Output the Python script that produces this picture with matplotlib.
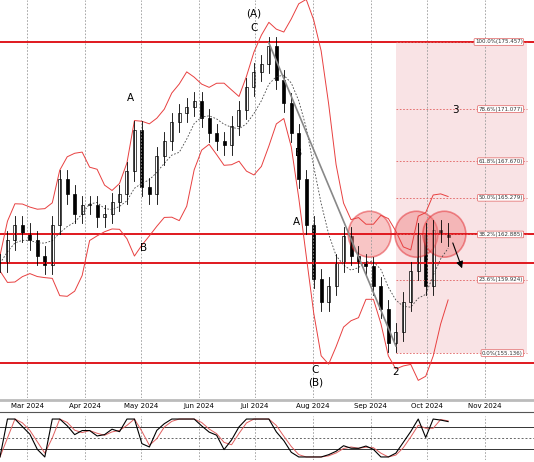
import matplotlib
matplotlib.use("Agg")
import matplotlib.pyplot as plt
import numpy as np
from matplotlib.patches import Ellipse

# closes every 4 calendar days starting Feb 16 2024
closes = [161.0, 162.5, 163.5, 163.0, 162.5, 161.5, 160.9, 163.5, 166.5, 165.5,
          164.2, 164.8, 164.8, 164.0, 164.2, 165.0, 165.5, 167.0, 169.7, 166.0,
          165.5, 168.0, 169.0, 170.2, 170.8, 171.2, 171.6, 170.5, 169.5, 169.0,
          168.7, 170.0, 171.0, 172.5, 173.5, 174.0, 175.2, 173.0, 171.5, 169.5,
          166.5, 163.5, 160.0, 158.5, 159.5, 161.0, 162.8, 161.5, 161.0, 160.8,
          159.5, 158.0, 155.8, 156.5, 158.5, 160.5, 163.0, 159.5, 163.2, 163.0, 162.7]
months = ["Mar 2024", "Apr 2024", "May 2024", "Jun 2024", "Jul 2024",
          "Aug 2024", "Sep 2024", "Oct 2024", "Nov 2024"]
month_days = [14.5, 45.5, 75.5, 106.5, 136.5, 167.5, 198.5, 228.5, 259.5]
hlines = [175.457, 162.885, 160.99, 154.5]
fib_pct = ["100.0%", "78.6%", "61.8%", "50.0%", "38.2%", "23.6%", "0.0%"]
fib_val = [175.457, 171.077, 167.670, 165.279, 162.885, 159.924, 155.136]
waves = [("(A)", 136, 177.3), ("C", 136, 176.4), ("A", 70, 171.8), ("B", 77, 162.0),
         ("B", 160, 168.2), ("A", 159, 163.7), ("C", 169, 154.0), ("(B)", 169, 153.2),
         ("2", 212, 153.9), ("3", 244, 171.0)]

c = np.array(closes)
days = np.arange(len(c)) * 4.0
opens = np.r_[c[0], c[:-1]]
highs = np.maximum(opens, c) + 0.6
lows = np.minimum(opens, c) - 0.6
# bollinger bands
w = 6
ma = np.array([c[max(0, i - w + 1):i + 1].mean() for i in range(len(c))])
sd = np.array([c[max(0, i - w + 1):i + 1].std() for i in range(len(c))])
up, dn = ma + 2 * sd + 0.5, ma - 2 * sd - 0.5

fig = plt.figure(figsize=(5.34, 4.62), dpi=100)
ax = fig.add_axes([0, 64 / 462, 1, 398 / 462])
osc = fig.add_axes([0, 2 / 462, 1, 44 / 462])

ax.set_xlim(0, 286)
ax.set_ylim(152.2, 178.2)
ax.axvspan(212, 282, ymin=(155.136 - 152.2) / 26, ymax=(175.457 - 152.2) / 26,
           color="#f4c9cc", alpha=0.5, lw=0)
for d in month_days:
    ax.axvline(d, color="#999999", ls=(0, (2, 2)), lw=0.6)
for h in hlines:
    ax.axhline(h, color="#e0181e", lw=1.4)
for p, v in zip(fib_pct, fib_val):
    ax.plot([212, 282], [v, v], color="#e06060", ls=(0, (2, 2)), lw=0.6)
    ax.text(280, v, f"{p}({v:.3f})", fontsize=4, ha="right", va="center", color="#333",
            bbox=dict(boxstyle="round,pad=0.15", fc="white", ec="#e06060", lw=0.5))
ax.plot(days, up, color="#e84040", lw=0.7)
ax.plot(days, dn, color="#e84040", lw=0.7)
ax.plot(days, ma, color="#444", ls=(0, (2, 2)), lw=0.6)
for x, o, cl, hi, lo in zip(days, opens, c, highs, lows):
    ax.plot([x, x], [lo, hi], color="black", lw=0.6)
    ax.add_patch(plt.Rectangle((x - 0.8, min(o, cl)), 1.6, max(abs(cl - o), 0.1),
                               fc="white" if cl >= o else "black", ec="black", lw=0.5))
ax.plot([144, 212], [175.4, 155.6], color="#888", lw=1.2)
for xc in [198, 223, 238]:
    ax.add_patch(Ellipse((xc, 162.9), 23, 3.0, fc="#f08080", ec="#e0181e", alpha=0.45, lw=1.2))
ax.annotate("", xy=(248, 160.5), xytext=(242, 162.5),
            arrowprops=dict(arrowstyle="-|>", color="black", lw=0.8))
for t, x, y in waves:
    ax.text(x, y, t, fontsize=7.5, ha="center", va="center")
ax.set_xticks([])
ax.set_yticks([])
for s in ax.spines.values():
    s.set_visible(False)
fig.add_artist(plt.Line2D([0, 1], [50 / 462, 50 / 462], color="#555", lw=0.8))
fig.add_artist(plt.Line2D([0, 1], [62 / 462, 62 / 462], color="#bbb", lw=2))
for d, m in zip(month_days, months):
    fig.text((d / 286), 56 / 462, m, fontsize=5, ha="center", va="center")

# stochastic-like oscillator from closes
n = 9
k = np.array([(c[i] - c[max(0, i - n):i + 1].min()) /
              max(np.ptp(c[max(0, i - n):i + 1]), 1e-6) * 100 for i in range(len(c))])
kd = np.convolve(k, np.ones(2) / 2, mode="same")
osc.set_xlim(0, 286)
osc.set_ylim(-8, 108)
for d in month_days:
    osc.axvline(d, color="#999999", ls=(0, (2, 2)), lw=0.6)
osc.axhline(80, color="#333", lw=0.7)
osc.axhline(20, color="#333", lw=0.7)
osc.axhline(50, color="#666", ls=(0, (2, 2)), lw=0.7)
osc.plot(days, kd, color="#e06060", lw=0.7)
osc.plot(days, k, color="black", lw=0.8)
osc.set_xticks([])
osc.set_yticks([])
for s in osc.spines.values():
    s.set_visible(False)
fig.savefig("out.png", dpi=100)
